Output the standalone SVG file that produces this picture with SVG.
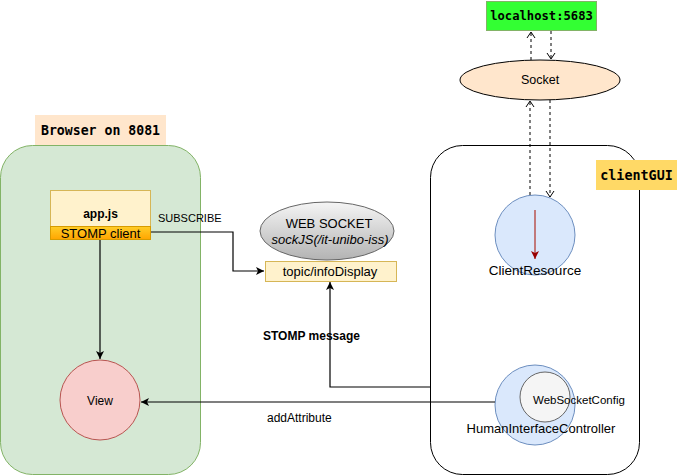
<svg xmlns="http://www.w3.org/2000/svg" width="677" height="476" viewBox="0 0 677 476">
<style>
.t{font-family:"Liberation Sans",Arial,sans-serif;fill:#000}
.m{font-family:"DejaVu Sans Mono","Liberation Mono",monospace;font-weight:bold;fill:#000}
.ln{fill:none;stroke:#000;stroke-width:1.2}
.ds{fill:none;stroke:#000;stroke-width:1;stroke-dasharray:3,3}
</style>
<defs>
<marker id="ar" markerWidth="10" markerHeight="10" refX="9" refY="5" orient="auto" markerUnits="userSpaceOnUse"><path d="M1,1 L9,5 L1,9 L3,5 Z" fill="#000"/></marker>
<marker id="op" markerWidth="10" markerHeight="10" refX="8" refY="5" orient="auto" markerUnits="userSpaceOnUse"><path d="M2,1 L8,5 L2,9" fill="none" stroke="#000" stroke-width="1"/></marker>
<marker id="rd" markerWidth="10" markerHeight="10" refX="9" refY="5" orient="auto" markerUnits="userSpaceOnUse"><path d="M1,1 L9,5 L1,9 L3,5 Z" fill="#990000"/></marker>
<linearGradient id="og" x1="0" y1="0" x2="0" y2="1"><stop offset="0" stop-color="#ffcd28"/><stop offset="1" stop-color="#ffa500"/></linearGradient>
<linearGradient id="gg" x1="0" y1="0" x2="0" y2="1"><stop offset="0" stop-color="#f5f5f5"/><stop offset="1" stop-color="#b3b3b3"/></linearGradient>
</defs>
<g id="browser">
<rect x="0.5" y="145.5" width="200" height="329" rx="32" fill="#d5e8d4" stroke="#82b366"/>
</g>
<g id="browser-label">
<rect x="35" y="115" width="131" height="30" fill="#ffe6cc"/>
<text class="m" x="100.5" y="135" text-anchor="middle" font-size="13.2">Browser on 8081</text>
</g>
<g id="clientgui">
<rect x="430.5" y="145.5" width="209" height="329" rx="32" fill="#fff" stroke="#000"/>
</g>
<g id="clientgui-label">
<rect x="596" y="160" width="81" height="30" fill="#ffd966"/>
<text class="m" x="636.5" y="180" text-anchor="middle" font-size="13.4">clientGUI</text>
</g>
<g id="localhost">
<rect x="486.5" y="1.5" width="110" height="29" fill="#33ff33" stroke="#82b366"/>
<text class="m" x="541.5" y="20" text-anchor="middle" font-size="12.2">localhost:5683</text>
</g>
<g id="socket">
<ellipse cx="540" cy="80" rx="80" ry="20" fill="#ffe6cc" stroke="#000"/>
<text class="t" x="540" y="84" text-anchor="middle" font-size="12.5">Socket</text>
</g>
<g id="appjs">
<rect x="50.5" y="190.5" width="100" height="36" fill="#fff2cc" stroke="#d6b656"/>
<text class="t" x="100.5" y="218" text-anchor="middle" font-weight="bold" font-size="12">app.js</text>
<rect x="50.5" y="226.5" width="100" height="13" fill="url(#og)" stroke="#d79b00"/>
<text class="t" x="100.5" y="237.5" text-anchor="middle" font-size="13">STOMP client</text>
</g>
<g id="websocket">
<ellipse cx="327" cy="231" rx="67" ry="29" fill="url(#gg)" stroke="#666"/>
<text class="t" x="329" y="228" text-anchor="middle" font-size="13">WEB SOCKET</text>
<text class="t" x="330" y="244" text-anchor="middle" font-size="13" font-style="italic">sockJS(/it-unibo-iss)</text>
</g>
<g id="topic">
<rect x="265.5" y="261.5" width="131" height="20" fill="#fff2cc" stroke="#d6b656"/>
<text class="t" x="330" y="275.5" text-anchor="middle" font-size="13">topic/infoDisplay</text>
</g>
<g id="view">
<circle cx="100" cy="400" r="40" fill="#f8cecc" stroke="#b85450"/>
<text class="t" x="100" y="404.5" text-anchor="middle" font-size="12">View</text>
</g>
<g id="clientresource">
<circle cx="535" cy="235" r="40" fill="#dae8fc" stroke="#6c8ebf"/>
<line x1="535" y1="210" x2="535" y2="259" stroke="#b85450" stroke-width="1.5" marker-end="url(#rd)"/>
<text class="t" x="535" y="275" text-anchor="middle" font-size="13.5">ClientResource</text>
</g>
<g id="hic">
<circle cx="535" cy="405" r="40" fill="#dae8fc" stroke="#6c8ebf"/>
<circle cx="545" cy="397" r="25" fill="#f5f5f5" stroke="#666"/>
<text class="t" x="533" y="404" font-size="11.5">WebSocketConfig</text>
<text class="t" x="541" y="433" text-anchor="middle" font-size="13">HumanInterfaceController</text>
</g>
<g id="connectors">
<path class="ln" d="M151,232 H233 V271 H264" marker-end="url(#ar)"/>
<text class="t" x="158" y="222" font-size="11">SUBSCRIBE</text>
<path class="ln" d="M100,240 V359" marker-end="url(#ar)"/>
<path class="ln" d="M430,387 H330 V282" marker-end="url(#ar)"/>
<text class="t" x="263" y="340" font-weight="bold" font-size="12">STOMP message</text>
<path class="ln" d="M495,402 H141" marker-end="url(#ar)"/>
<text class="t" x="267" y="422" font-size="12">addAttribute</text>
<path class="ds" d="M531,60 V32" marker-end="url(#op)"/>
<path class="ds" d="M551,31 V59" marker-end="url(#op)"/>
<path class="ds" d="M530,195 V101" marker-end="url(#op)"/>
<path class="ds" d="M550,100 V197" marker-end="url(#op)"/>
</g>
</svg>
